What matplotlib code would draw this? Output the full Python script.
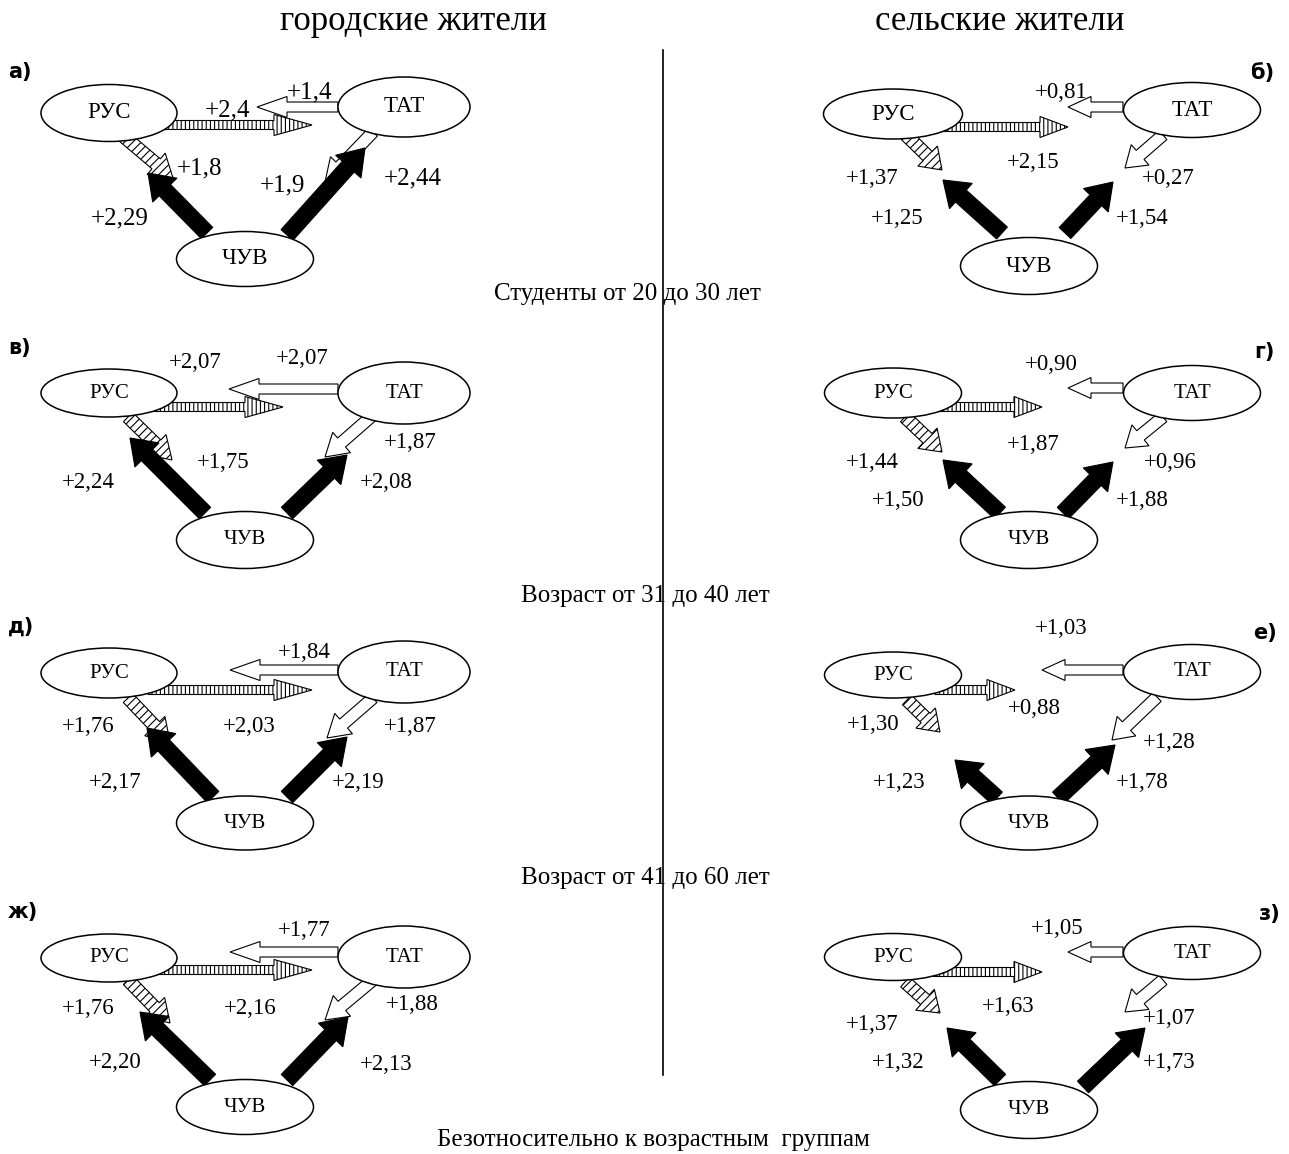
import matplotlib
matplotlib.use("Agg")
import matplotlib.pyplot as plt
from matplotlib.patches import Ellipse, FancyArrow

# ---------------- DATA ----------------
column_titles = ["городские жители", "сельские жители"]
group_titles = ["Студенты от 20 до 30 лет", "Возраст от 31 до 40 лет",
                "Возраст от 41 до 60 лет", "Безотносительно к возрастным  группам"]
panel_letters = ["а)", "б)", "в)", "г)", "д)", "е)", "ж)", "з)"]
nodes = ["РУС", "ТАТ", "ЧУВ"]

# flow values per panel (а, б, в, г, д, е, ж, з)
rus_to_tat  = ["2,4",  "2,15", "2,07", "1,87", "2,03", "0,88", "2,16", "1,63"]
tat_to_rus  = ["1,4",  "0,81", "2,07", "0,90", "1,84", "1,03", "1,77", "1,05"]
rus_to_chuv = ["1,8",  "1,37", "1,75", "1,44", "1,76", "1,30", "1,76", "1,37"]
chuv_to_rus = ["2,29", "1,25", "2,24", "1,50", "2,17", "1,23", "2,20", "1,32"]
tat_to_chuv = ["1,9",  "0,27", "1,87", "0,96", "1,87", "1,28", "1,88", "1,07"]
chuv_to_tat = ["2,44", "1,54", "2,08", "1,88", "2,19", "1,78", "2,13", "1,73"]

# ---------------- LAYOUT (pixel space) ----------------
W, H = 1289, 1154
node_layout = [
    [(109, 113, 136, 57), (404, 107, 132, 60), (245, 259, 137, 55)],
    [(893, 114, 139, 50), (1192, 110, 137, 55), (1029, 266, 137, 57)],
    [(109, 393, 136, 48), (404, 393, 132, 62), (245, 540, 137, 57)],
    [(893, 393, 137, 50), (1192, 393, 137, 55), (1029, 540, 137, 57)],
    [(109, 673, 136, 50), (404, 672, 132, 62), (245, 823, 137, 54)],
    [(893, 675, 137, 46), (1192, 672, 137, 55), (1029, 823, 137, 54)],
    [(109, 958, 136, 48), (404, 957, 132, 62), (245, 1107, 137, 55)],
    [(893, 957, 137, 47), (1192, 953, 137, 53), (1029, 1110, 137, 57)],
]
# arrows order: RT, TR, RC, CR, TC, CT  -> (start, tip)
arrow_layout = [
    [((147, 125), (312, 125)), ((338, 107), (257, 107)), ((122, 135), (173, 178)),
     ((207, 233), (148, 173)), ((373, 132), (325, 182)), ((287, 235), (365, 148))],
    [((933, 127), (1068, 127)), ((1123, 107), (1068, 107)), ((906, 135), (942, 170)),
     ((1002, 233), (943, 180)), ((1163, 135), (1125, 168)), ((1065, 233), (1113, 182))],
    [((148, 407), (283, 407)), ((338, 389), (229, 389)), ((128, 417), (172, 460)),
     ((205, 513), (130, 438)), ((373, 415), (325, 457)), ((287, 513), (347, 455))],
    [((933, 407), (1042, 407)), ((1123, 388), (1068, 388)), ((905, 417), (942, 452)),
     ((1000, 513), (943, 460)), ((1163, 417), (1125, 448)), ((1063, 513), (1113, 462))],
    [((148, 690), (312, 690)), ((338, 670), (230, 670)), ((128, 698), (170, 742)),
     ((213, 797), (147, 728)), ((373, 698), (327, 738)), ((287, 797), (347, 737))],
    [((935, 690), (1015, 690)), ((1123, 670), (1042, 670)), ((907, 700), (940, 732)),
     ((997, 798), (955, 760)), ((1157, 697), (1112, 740)), ((1058, 798), (1115, 745))],
    [((148, 970), (312, 970)), ((338, 952), (230, 952)), ((128, 980), (170, 1023)),
     ((210, 1080), (140, 1012)), ((373, 980), (325, 1020)), ((287, 1080), (348, 1017))],
    [((933, 972), (1042, 972)), ((1123, 952), (1068, 952)), ((905, 982), (940, 1013)),
     ((1000, 1080), (947, 1028)), ((1163, 980), (1125, 1012)), ((1083, 1087), (1145, 1028))],
]
label_layout = [
    [(228, 110), (309, 92), (200, 168), (120, 218), (282, 185), (413, 178)],
    [(1033, 163), (1061, 93), (872, 179), (897, 218), (1168, 178), (1142, 218)],
    [(195, 363), (302, 358), (223, 462), (88, 482), (410, 443), (386, 482)],
    [(1033, 445), (1051, 365), (872, 463), (898, 500), (1170, 463), (1142, 500)],
    [(249, 727), (304, 652), (88, 727), (115, 782), (410, 727), (358, 782)],
    [(1034, 708), (1061, 628), (873, 725), (899, 782), (1169, 742), (1142, 782)],
    [(250, 1008), (304, 930), (88, 1008), (115, 1063), (412, 1005), (386, 1065)],
    [(1008, 1007), (1057, 928), (872, 1025), (898, 1063), (1169, 1018), (1169, 1063)],
]
letter_layout = [(8, 72), (1274, 73), (8, 348), (1275, 352), (8, 627),
                 (1277, 633), (8, 912), (1281, 914)]
title_layout = [(413, 21), (1000, 21)]
group_layout = [(627, 294), (645, 596), (645, 878), (653, 1140)]

# arrow styles: (face, hatch, shaft width, head width, head length left, head length right)
arrow_styles = [
    ("white", "||||", 9, 21, 38, 28),
    ("white", None, 10, 21, 30, 23),
    ("white", "////", 13, 28, 22, 20),
    ("black", None, 16, 34, 24, 24),
    ("white", None, 12, 27, 22, 20),
    ("black", None, 16, 34, 25, 25),
]

SERIF = "Liberation Serif"
plt.rcParams["hatch.linewidth"] = 0.8

fig = plt.figure(figsize=(W / 100, H / 100), dpi=100)
ax = fig.add_axes([0, 0, 1, 1])
ax.set_xlim(0, W)
ax.set_ylim(H, 0)
ax.axis("off")

flows = [rus_to_tat, tat_to_rus, rus_to_chuv, chuv_to_rus, tat_to_chuv, chuv_to_tat]

for p in range(8):
    col = p % 2
    big = (p == 0)
    # arrows
    for k, ((x0, y0), (x1, y1)) in enumerate(arrow_layout[p]):
        face, hatch, w, hw, hl_l, hl_r = arrow_styles[k]
        hl = hl_l if col == 0 else hl_r
        arr = FancyArrow(x0, y0, x1 - x0, y1 - y0, width=w, head_width=hw,
                         head_length=hl, length_includes_head=True,
                         facecolor=face, edgecolor="black", linewidth=0.8,
                         hatch=hatch, zorder=2)
        ax.add_patch(arr)
    # nodes
    for name, (cx, cy, ew, eh) in zip(nodes, node_layout[p]):
        ax.add_patch(Ellipse((cx, cy), ew, eh, facecolor="white",
                             edgecolor="black", linewidth=1.1, zorder=3))
        ax.text(cx, cy, name, ha="center", va="center", fontfamily=SERIF,
                fontsize=16.5 if p < 2 else 15, zorder=4)
    # value labels
    for k, (lx, ly) in enumerate(label_layout[p]):
        ax.text(lx, ly, "+" + flows[k][p], ha="center", va="center",
                fontfamily=SERIF, fontsize=18 if big else 16.5, zorder=5)
    # panel letter
    lx, ly = letter_layout[p]
    ax.text(lx, ly, panel_letters[p], ha="left" if col == 0 else "right",
            va="center", fontfamily="DejaVu Sans", fontweight="bold",
            fontsize=15, zorder=5)

for t, (x, y) in zip(column_titles, title_layout):
    ax.text(x, y, t, ha="center", va="center", fontfamily=SERIF, fontsize=25)

for t, (x, y) in zip(group_titles, group_layout):
    ax.text(x, y, t, ha="center", va="center", fontfamily=SERIF, fontsize=18)

ax.plot([663, 663], [50, 1075], color="black", linewidth=1.2, zorder=1)

fig.savefig("out.png", dpi=100)
